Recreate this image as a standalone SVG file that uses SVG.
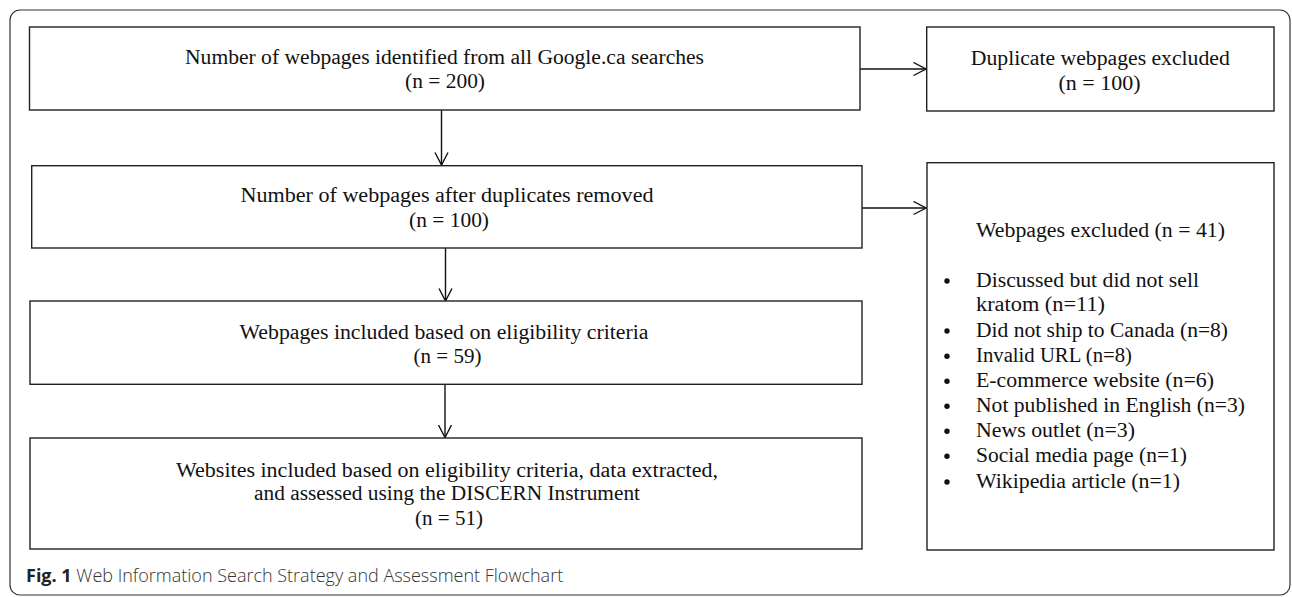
<svg xmlns="http://www.w3.org/2000/svg" width="1292" height="597" viewBox="0 0 1292 597">
<defs>
<marker id="arr" markerWidth="16" markerHeight="16" refX="13" refY="7" orient="auto" markerUnits="userSpaceOnUse">
<path d="M0.5,0.5 L13,7 L0.5,13.5" fill="none" stroke="#111" stroke-width="1.4"/>
</marker>
<style>
.box{fill:#fff;stroke:#222;stroke-width:1.4}
.t{font-family:"Liberation Serif","Times New Roman",serif;font-size:20px;fill:#111}
.c{text-anchor:middle}
.line{stroke:#111;stroke-width:1.4;fill:none}
.cap{font-family:"Open Sans","Liberation Sans",sans-serif;font-size:18px;fill:#333;font-weight:300}
.dot{fill:#111}
</style>
</defs>
<rect x="10" y="10" width="1280" height="585" rx="10" fill="#fff" stroke="#333" stroke-width="1.2"/>
<g id="connectors">
<line class="line" x1="860" y1="69" x2="926" y2="69" marker-end="url(#arr)"/>
<line class="line" x1="441.5" y1="110" x2="441.5" y2="165" marker-end="url(#arr)"/>
<line class="line" x1="862" y1="208" x2="926" y2="208" marker-end="url(#arr)"/>
<line class="line" x1="445.5" y1="248" x2="445.5" y2="301" marker-end="url(#arr)"/>
<line class="line" x1="445" y1="384" x2="445" y2="437.5" marker-end="url(#arr)"/>
</g>
<g id="n1">
<rect class="box" x="29.5" y="27" width="830.5" height="83"/>
<text class="t c" x="444.5" y="64" textLength="519" lengthAdjust="spacingAndGlyphs">Number of webpages identified from all Google.ca searches</text>
<text class="t c" x="445" y="88" textLength="80" lengthAdjust="spacingAndGlyphs">(n = 200)</text>
</g>
<g id="n2">
<rect class="box" x="926.7" y="27" width="347.3" height="84"/>
<text class="t c" x="1100.3" y="65" textLength="259" lengthAdjust="spacingAndGlyphs">Duplicate webpages excluded</text>
<text class="t c" x="1099.5" y="90" textLength="82" lengthAdjust="spacingAndGlyphs">(n = 100)</text>
</g>
<g id="n3">
<rect class="box" x="31.7" y="165.7" width="830.3" height="82.3"/>
<text class="t c" x="447" y="202" textLength="413" lengthAdjust="spacingAndGlyphs">Number of webpages after duplicates removed</text>
<text class="t c" x="449" y="227" textLength="80" lengthAdjust="spacingAndGlyphs">(n = 100)</text>
</g>
<g id="n4">
<rect class="box" x="927" y="162.7" width="347" height="387.3"/>
<text class="t" x="976" y="237" textLength="249" lengthAdjust="spacingAndGlyphs">Webpages excluded (n = 41)</text>
<circle class="dot" cx="947" cy="281" r="2.7"/>
<circle class="dot" cx="947" cy="331" r="2.7"/>
<circle class="dot" cx="947" cy="356.3" r="2.7"/>
<circle class="dot" cx="947" cy="381.3" r="2.7"/>
<circle class="dot" cx="947" cy="406.3" r="2.7"/>
<circle class="dot" cx="947" cy="431.3" r="2.7"/>
<circle class="dot" cx="947" cy="456.3" r="2.7"/>
<circle class="dot" cx="947" cy="482" r="2.7"/>
<text class="t" x="976" y="286.7" textLength="223" lengthAdjust="spacingAndGlyphs">Discussed but did not sell</text>
<text class="t" x="976" y="311" textLength="129" lengthAdjust="spacingAndGlyphs">kratom (n=11)</text>
<text class="t" x="976" y="336.7" textLength="252" lengthAdjust="spacingAndGlyphs">Did not ship to Canada (n=8)</text>
<text class="t" x="976" y="362" textLength="156" lengthAdjust="spacingAndGlyphs">Invalid URL (n=8)</text>
<text class="t" x="976" y="387" textLength="238" lengthAdjust="spacingAndGlyphs">E-commerce website (n=6)</text>
<text class="t" x="976" y="412" textLength="269" lengthAdjust="spacingAndGlyphs">Not published in English (n=3)</text>
<text class="t" x="976" y="437" textLength="159" lengthAdjust="spacingAndGlyphs">News outlet (n=3)</text>
<text class="t" x="976" y="462" textLength="211" lengthAdjust="spacingAndGlyphs">Social media page (n=1)</text>
<text class="t" x="976" y="487.7" textLength="204" lengthAdjust="spacingAndGlyphs">Wikipedia article (n=1)</text>
</g>
<g id="n5">
<rect class="box" x="30" y="301" width="832" height="83.3"/>
<text class="t c" x="444" y="339" textLength="409" lengthAdjust="spacingAndGlyphs">Webpages included based on eligibility criteria</text>
<text class="t c" x="447.5" y="363" textLength="68" lengthAdjust="spacingAndGlyphs">(n = 59)</text>
</g>
<g id="n6">
<rect class="box" x="30" y="438" width="832" height="111"/>
<text class="t c" x="447" y="477" textLength="542" lengthAdjust="spacingAndGlyphs">Websites included based on eligibility criteria, data extracted,</text>
<text class="t c" x="447" y="500" textLength="386" lengthAdjust="spacingAndGlyphs">and assessed using the DISCERN Instrument</text>
<text class="t c" x="449" y="525" textLength="68" lengthAdjust="spacingAndGlyphs">(n = 51)</text>
</g>
<text class="cap" x="26" y="582"><tspan font-weight="bold" fill="#222">Fig. 1</tspan> Web Information Search Strategy and Assessment Flowchart</text>
</svg>
